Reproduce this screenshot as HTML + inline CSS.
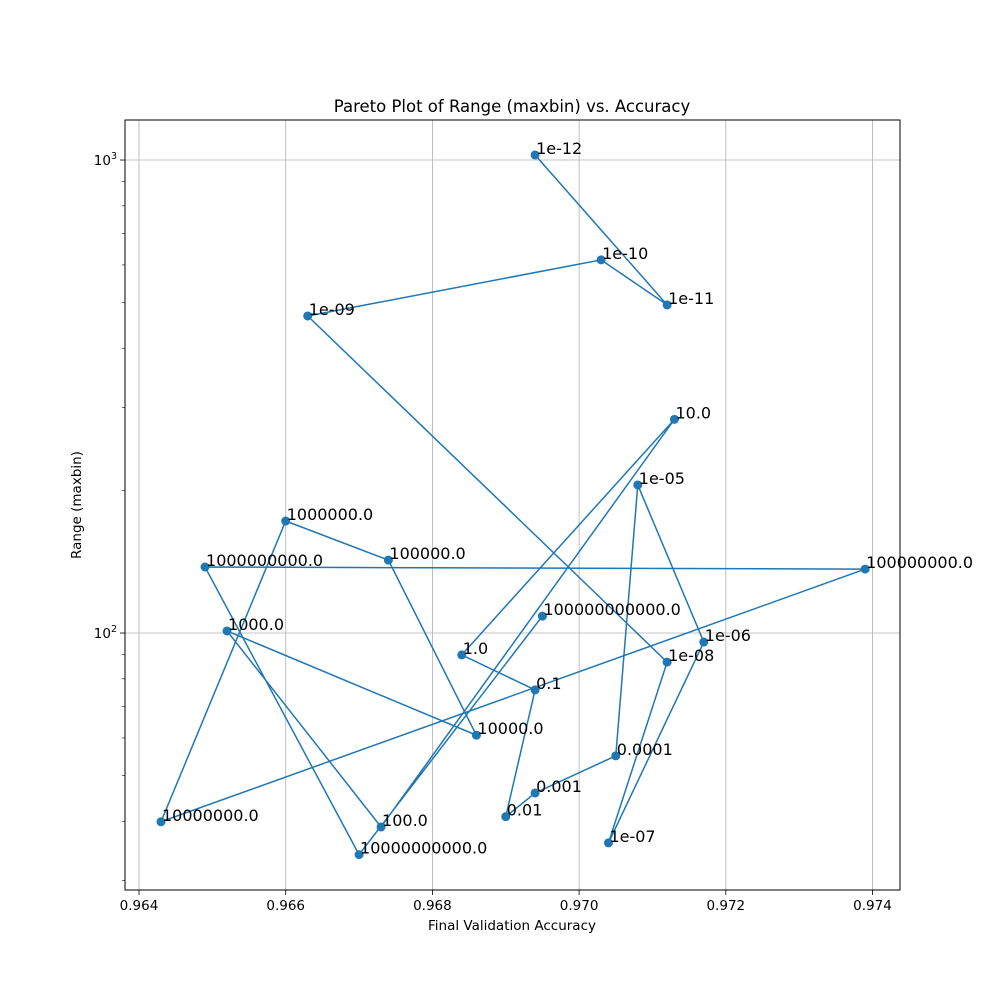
<!DOCTYPE html>
<html><head><meta charset="utf-8"><style>
body{margin:0;background:#fff;}
svg text{font-family:"DejaVu Sans","Liberation Sans",sans-serif;}
</style></head><body>
<svg id="chart" width="1000" height="1000" xmlns="http://www.w3.org/2000/svg">
<rect width="1000" height="1000" fill="#fff"/>
<g id="grid"></g><g id="series"></g><g id="labels"></g><g id="axes"></g>
</svg>
<script>
const pointLabels = ["1e-12","1e-11","1e-10","1e-09","1e-08","1e-07","1e-06","1e-05","0.0001","0.001","0.01","0.1","1.0","10.0","100.0","1000.0","10000.0","100000.0","1000000.0","10000000.0","100000000.0","1000000000.0","10000000000.0","100000000000.0"];
const accuracy = [0.9694,0.9712,0.9703,0.9663,0.9712,0.9704,0.9717,0.9708,0.9705,0.9694,0.9690,0.9694,0.9684,0.9713,0.9673,0.9652,0.9686,0.9674,0.9660,0.9643,0.9739,0.9649,0.9670,0.9695];
const rangeVals = [1025,494,615,468,86.8,36.0,95.7,205.6,55.0,45.9,40.9,75.8,89.9,283,38.9,101,60.8,142.6,172.5,39.9,136.5,137.9,34.0,108.6];
const xTicks = [0.964,0.966,0.968,0.970,0.972,0.974];
const xTickLabels = ["0.964","0.966","0.968","0.970","0.972","0.974"];
const yMajor = [100,1000];
const yMinor = [30,40,50,60,70,80,90,200,300,400,500,600,700,800,900];

const L=125,R=900,T=120,B=890;
const XMIN=0.963809, XMAX=0.974375;
const LMIN=1.4567, LMAX=3.0846;
const sx=v=>L+(v-XMIN)/(XMAX-XMIN)*(R-L);
const sy=v=>B-(Math.log10(v)-LMIN)/(LMAX-LMIN)*(B-T);
const NS="http://www.w3.org/2000/svg";
function mk(tag,attrs,parent){const e=document.createElementNS(NS,tag);for(const k in attrs)e.setAttribute(k,attrs[k]);parent.appendChild(e);return e;}
const grid=document.getElementById('grid'),series=document.getElementById('series'),labels=document.getElementById('labels'),axes=document.getElementById('axes');

xTicks.forEach((t,i)=>{const x=sx(t);
 const g=mk('line',{x1:x,x2:x,y1:T,y2:B,stroke:'#b0b0b0','stroke-width':0.8},grid);
 
 
 mk('line',{x1:x,x2:x,y1:B,y2:B+5,stroke:'#000','stroke-width':0.8},axes);
 const tx=mk('text',{x:x,y:B+20,'font-size':13.5,'text-anchor':'middle'},axes);tx.textContent=xTickLabels[i];
 
 
});
yMajor.forEach(t=>{const y=sy(t);
 const g=mk('line',{x1:L,x2:R,y1:y,y2:y,stroke:'#b0b0b0','stroke-width':0.8},grid);
 
 
 mk('line',{x1:L-5,x2:L,y1:y,y2:y,stroke:'#000','stroke-width':0.8},axes);
 const tx=mk('text',{x:L-8,y:y+5,'font-size':13.5,'text-anchor':'end'},axes);
 tx.innerHTML='10<tspan dy="-6" font-size="9.5">'+Math.round(Math.log10(t))+'</tspan>';
 
 
});
yMinor.forEach(t=>{const y=sy(t);mk('line',{x1:L-3,x2:L,y1:y,y2:y,stroke:'#000','stroke-width':0.6},axes);});

const pts=accuracy.map((a,i)=>sx(a)+','+sy(rangeVals[i])).join(' ');
const pl=mk('polyline',{points:pts,fill:'none',stroke:'#1f77b4','stroke-width':1.5},series);


accuracy.forEach((a,i)=>{
 const c=mk('circle',{cx:sx(a),cy:sy(rangeVals[i]),r:4.5,fill:'#1f77b4'},series);
 
 
 const t=mk('text',{x:sx(a)+1,y:sy(rangeVals[i])-1,'font-size':16},labels);
 t.textContent=pointLabels[i];
 
 
});
const fr=mk('rect',{x:L,y:T,width:R-L,height:B-T,fill:'none',stroke:'#000','stroke-width':1},axes);


</script>
<svg style="position:absolute;left:0;top:0" width="1000" height="1000" xmlns="http://www.w3.org/2000/svg" pointer-events="none">
<text x="512" y="112" font-size="16.5" text-anchor="middle" font-family="DejaVu Sans, Liberation Sans, sans-serif">Pareto Plot of Range (maxbin) vs. Accuracy</text>
<text x="512" y="930" font-size="13.5" text-anchor="middle" font-family="DejaVu Sans, Liberation Sans, sans-serif">Final Validation Accuracy</text>
<text transform="translate(81,505) rotate(-90)" font-size="13.5" text-anchor="middle" font-family="DejaVu Sans, Liberation Sans, sans-serif">Range (maxbin)</text>
</svg>
</body></html>
